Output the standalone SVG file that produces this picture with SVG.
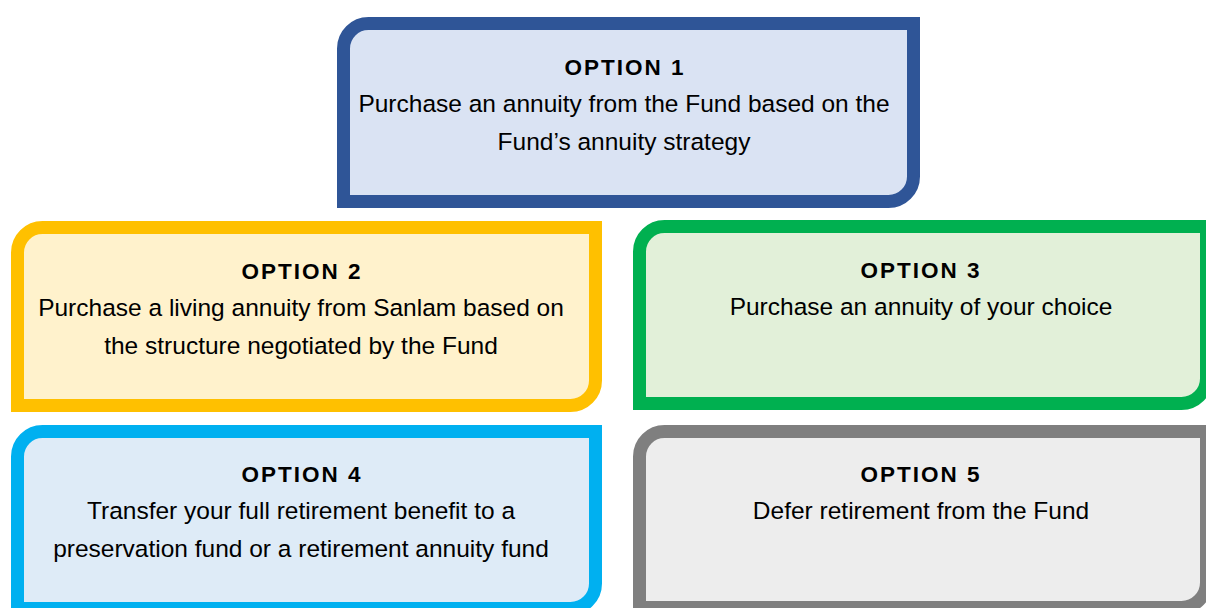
<svg xmlns="http://www.w3.org/2000/svg" width="1208" height="608" viewBox="0 0 1208 608">
  <style>
    .box { stroke-width: 13; stroke-linejoin: miter; }
    .title { font-family: "Liberation Sans", Arial, sans-serif; font-weight: bold; font-size: 22.5px; letter-spacing: 2px; fill: #000; text-anchor: middle; }
    .body { font-family: "Liberation Sans", Arial, sans-serif; font-size: 24.5px; fill: #000; text-anchor: middle; }
  </style>
  <defs>
    <clipPath id="clipRight">
      <rect x="0" y="0" width="1206" height="608"/>
    </clipPath>
  </defs>
  <rect x="0" y="0" width="1208" height="608" fill="#FFFFFF"/>
  <g id="connectors"></g>
  <g id="option1">
    <path class="box" fill="#DAE3F3" stroke="#2F5597" d="M343.5,48.5 A25,25 0 0 1 368.5,23.5 L913.5,23.5 L913.5,176.5 A25,25 0 0 1 888.5,201.5 L343.5,201.5 Z"/>
    <text class="title" x="625" y="75">OPTION 1</text>
    <text class="body" x="624" y="112">Purchase an annuity from the Fund based on the</text>
    <text class="body" x="624" y="150">Fund’s annuity strategy</text>
  </g>
  <g id="option2">
    <path class="box" fill="#FFF2CC" stroke="#FFC000" d="M17.5,252.5 A25,25 0 0 1 42.5,227.5 L595.5,227.5 L595.5,380.5 A25,25 0 0 1 570.5,405.5 L17.5,405.5 Z"/>
    <text class="title" x="302" y="279">OPTION 2</text>
    <text class="body" x="301" y="316">Purchase a living annuity from Sanlam based on</text>
    <text class="body" x="301" y="354">the structure negotiated by the Fund</text>
  </g>
  <g id="option3" clip-path="url(#clipRight)">
    <path class="box" fill="#E2F0D9" stroke="#00B050" d="M639.5,251.5 A25,25 0 0 1 664.5,226.5 L1206.5,226.5 L1206.5,378.5 A25,25 0 0 1 1181.5,403.5 L639.5,403.5 Z"/>
    <text class="title" x="921" y="278">OPTION 3</text>
    <text class="body" x="921" y="315">Purchase an annuity of your choice</text>
  </g>
  <g id="option4">
    <path class="box" fill="#DEEBF7" stroke="#00B0F0" d="M17.5,456.5 A25,25 0 0 1 42.5,431.5 L595.5,431.5 L595.5,583.5 A25,25 0 0 1 570.5,608.5 L17.5,608.5 Z"/>
    <text class="title" x="302" y="482">OPTION 4</text>
    <text class="body" x="301" y="519">Transfer your full retirement benefit to a</text>
    <text class="body" x="301" y="557">preservation fund or a retirement annuity fund</text>
  </g>
  <g id="option5" clip-path="url(#clipRight)">
    <path class="box" fill="#EDEDED" stroke="#7F7F7F" d="M639.5,456.5 A25,25 0 0 1 664.5,431.5 L1206.5,431.5 L1206.5,582.5 A25,25 0 0 1 1181.5,607.5 L639.5,607.5 Z"/>
    <text class="title" x="921" y="482">OPTION 5</text>
    <text class="body" x="921" y="519">Defer retirement from the Fund</text>
  </g>
</svg>
